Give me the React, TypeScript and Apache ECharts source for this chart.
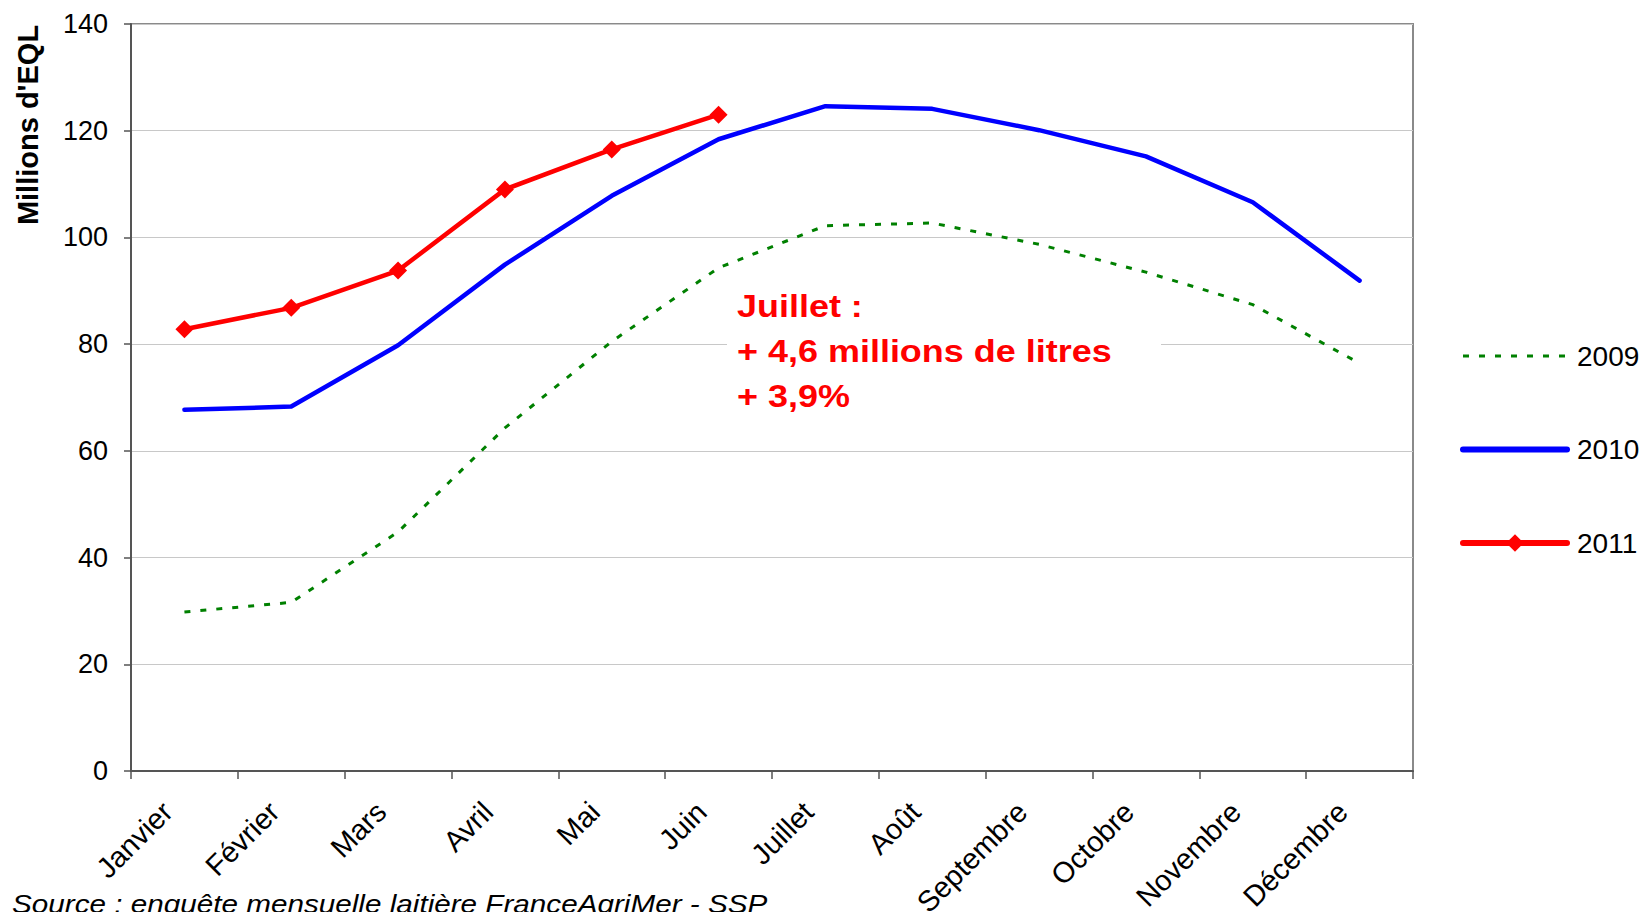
import React, { useEffect, useRef } from "react";
import * as echarts from "echarts";

const months = [
  "Janvier", "Février", "Mars", "Avril", "Mai", "Juin",
  "Juillet", "Août", "Septembre", "Octobre", "Novembre", "Décembre",
];
const values2009 = [29.8, 31.6, 44.8, 64.3, 80.5, 94.3, 102.2, 102.7, 98.7, 93.5, 87.4, 76.4];
const values2010 = [67.7, 68.3, 79.8, 94.9, 107.8, 118.4, 124.6, 124.1, 120.1, 115.2, 106.6, 91.9];
const values2011 = [82.8, 86.8, 93.8, 109.0, 116.5, 123.0];
const seriesNames = ["2009", "2010", "2011"];
const yAxisTitle = "Millions d'EQL";
const annotationLines = ["Juillet :", "+ 4,6 millions de litres", "+ 3,9%"];
const sourceText = "Source : enquête mensuelle laitière FranceAgriMer - SSP";

const FONT = "'Liberation Sans', Arial, Helvetica, sans-serif";

export default function App() {
  const ref = useRef<HTMLDivElement>(null);

  useEffect(() => {
    if (!ref.current) return;
    const chart = echarts.init(ref.current, null, { renderer: "svg" });
    chart.setOption({
      animation: false,
      backgroundColor: "#ffffff",
      textStyle: { fontFamily: FONT },
      grid: {
        left: 131,
        top: 24,
        right: 230,
        bottom: 141,
        containLabel: false,
        outerBoundsMode: "none",
        show: true,
        borderColor: "#8a8a8a",
        borderWidth: 2,
        backgroundColor: "transparent",
      },
      legend: {
        orient: "vertical",
        left: 1460,
        top: 342,
        padding: 0,
        itemWidth: 104,
        itemHeight: 22,
        itemGap: 65.5,
        textStyle: { fontSize: 28, color: "#000", fontFamily: FONT, lineHeight: 22, padding: [0, 0, 0, 5] },
        data: [
          { name: seriesNames[0], itemStyle: { opacity: 0 }, lineStyle: { width: 3 } },
          { name: seriesNames[1], itemStyle: { opacity: 0 }, lineStyle: { width: 6, cap: "round" } },
          { name: seriesNames[2], lineStyle: { width: 6, cap: "round" } },
        ],
      },
      xAxis: {
        type: "category",
        data: months,
        boundaryGap: true,
        axisLine: { show: true, lineStyle: { color: "#555", width: 2 } },
        axisTick: { show: true, alignWithLabel: false, length: 8, lineStyle: { color: "#555", width: 1.5 } },
        axisLabel: {
          interval: 0,
          rotate: 45,
          margin: 19,
          padding: [0, 24, 0, 0],
          fontSize: 29,
          color: "#000",
          fontFamily: FONT,
        },
        splitLine: { show: false },
      },
      yAxis: {
        type: "value",
        min: 0,
        max: 140,
        interval: 20,
        axisLine: { show: true, lineStyle: { color: "#555", width: 2 } },
        axisTick: { show: true, length: 7, lineStyle: { color: "#555", width: 1.5 } },
        axisLabel: { margin: 23, fontSize: 27, color: "#000", fontFamily: FONT },
        splitLine: { show: true, lineStyle: { color: "#c8c8c8", width: 1 } },
      },
      graphic: [
        {
          type: "rect",
          z: 1,
          shape: { x: 727, y: 272, width: 434, height: 160 },
          style: { fill: "#ffffff" },
          silent: true,
        },
        {
          type: "text",
          z: 5,
          x: 737,
          y: 284,
          scaleX: 1.16,
          style: {
            text: annotationLines.join("\n"),
            fill: "#ff0000",
            font: `bold 31px ${FONT}`,
            lineHeight: 45,
            textAlign: "left",
            textVerticalAlign: "top",
          },
        },
        {
          type: "text",
          x: 28,
          y: 125,
          rotation: Math.PI / 2,
          style: {
            text: yAxisTitle,
            fill: "#000",
            font: `bold 29px ${FONT}`,
            textAlign: "center",
            textVerticalAlign: "middle",
          },
        },
        {
          type: "text",
          x: 12,
          y: 891,
          scaleX: 1.12,
          style: {
            text: sourceText,
            fill: "#000",
            font: `italic 26.5px ${FONT}`,
            textAlign: "left",
            textVerticalAlign: "top",
          },
        },
      ],
      series: [
        {
          name: seriesNames[0],
          type: "line",
          data: values2009,
          symbol: "none",
          z: 2,
          lineStyle: { color: "#008000", width: 3, type: [6, 10] },
          itemStyle: { color: "#008000" },
        },
        {
          name: seriesNames[1],
          type: "line",
          data: values2010,
          symbol: "none",
          z: 3,
          lineStyle: { color: "#0000ff", width: 4.5, cap: "round", join: "round" },
          itemStyle: { color: "#0000ff" },
        },
        {
          name: seriesNames[2],
          type: "line",
          data: values2011,
          symbol: "diamond",
          symbolSize: 18,
          z: 4,
          lineStyle: { color: "#ff0000", width: 4.5, cap: "round", join: "round" },
          itemStyle: { color: "#ff0000" },
        },
      ],
    });
    return () => chart.dispose();
  }, []);

  return (
    <div
      ref={ref}
      style={{ position: "absolute", left: 0, top: 0, width: 1643, height: 912, background: "#fff" }}
    />
  );
}
